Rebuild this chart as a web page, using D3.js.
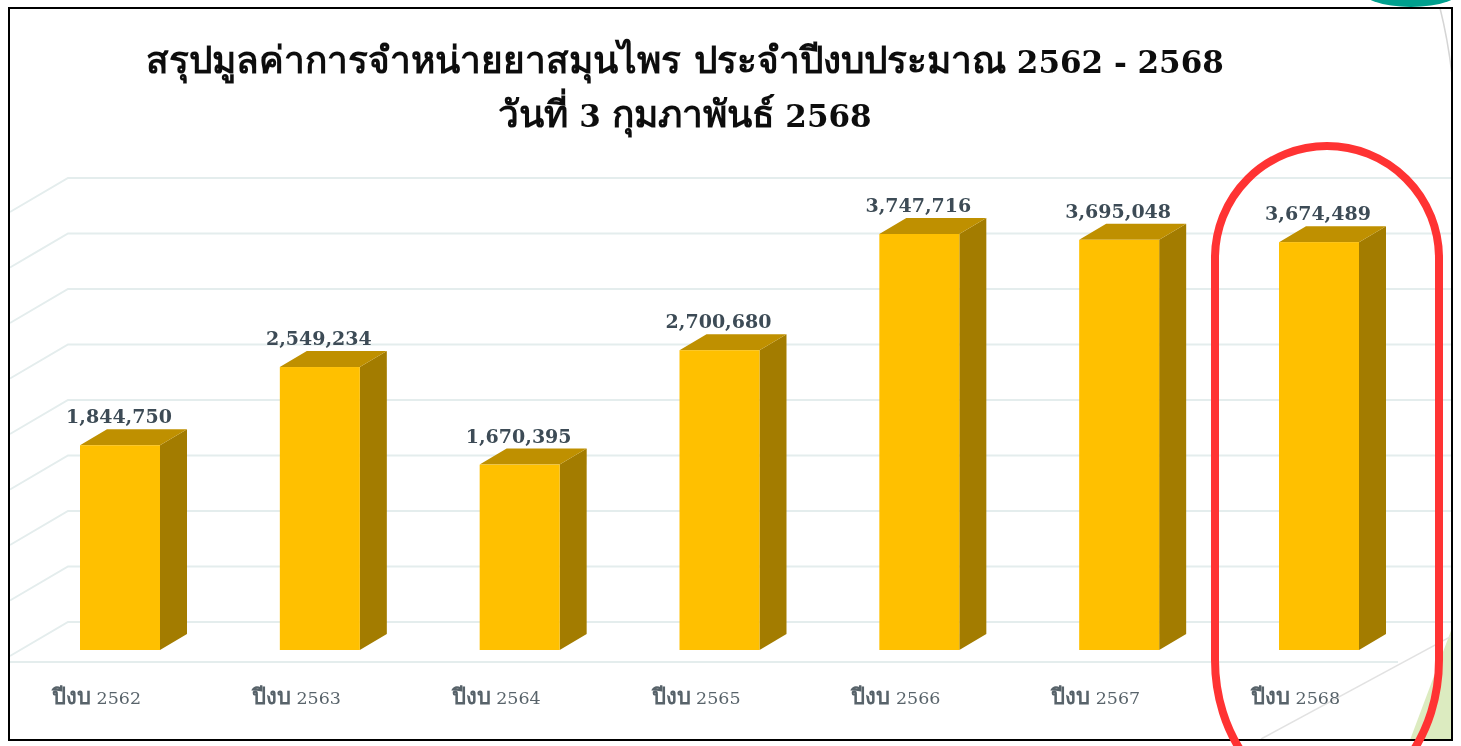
<!DOCTYPE html>
<html>
<head>
<meta charset="utf-8">
<script src="https://cdn.jsdelivr.net/npm/d3@7/dist/d3.min.js"></script>
<style>
    html, body { margin: 0; padding: 0; background: #fff; overflow: hidden; }
    svg { display: block; }
    text { font-family: "DejaVu Serif", "Liberation Serif", serif; }
</style>
</head>
<body>
<svg id="chart" width="1461" height="746"></svg>
<script>
var years = ["ปีงบ 2562", "ปีงบ 2563", "ปีงบ 2564", "ปีงบ 2565", "ปีงบ 2566", "ปีงบ 2567", "ปีงบ 2568"];
var values = [1844750, 2549234, 1670395, 2700680, 3747716, 3695048, 3674489];
var gridTicks = [0, 500000, 1000000, 1500000, 2000000, 2500000, 3000000, 3500000, 4000000];
var titleLines = ["สรุปมูลค่าการจำหน่ายยาสมุนไพร ประจำปีงบประมาณ 2562 - 2568", "วันที่ 3 กุมภาพันธ์ 2568"];

var svg = d3.select("#chart");

// the source is a soft screenshot, so everything gets a small blur
var defs = svg.append("defs");
defs.append("filter").attr("id", "soft")
    .attr("x", "-5%").attr("y", "-5%").attr("width", "110%").attr("height", "110%")
    .append("feGaussianBlur").attr("stdDeviation", 0.55);
defs.append("clipPath").attr("id", "frameClip")
    .append("rect").attr("x", 9).attr("y", 8).attr("width", 1443).attr("height", 732);

var depthX = 27, depthY = -16;   // 3d offset of the bars
var wallX = 58, wallY = 34;      // 3d offset of the side wall

var x = d3.scalePoint().domain(years).range([120, 1319]);
var barW = 80;
var yBack = d3.scaleLinear().domain([0, 4000000]).range([622, 178]);
var yFront = function(v) { return yBack(v) + 28; };

// Thai glyphs fall back to a narrower face, so they get a bigger size than the digits
function addMixedText(sel, thaiSize, digitSize, digitWeight) {
    sel.each(function(d) {
        var t = d3.select(this);
        d.split(/([0-9\- ]*[0-9]+[0-9\- ]*)/).filter(function(s) { return s.length > 0; }).forEach(function(part) {
            var isDigits = /^[0-9\- ]+$/.test(part);
            t.append("tspan")
                .attr("font-size", isDigits ? digitSize : thaiSize)
                .attr("font-weight", isDigits ? digitWeight : "bold")
                .style("white-space", "pre")
                .text(part);
        });
    });
}

// teal shape sticking out above the frame
svg.append("ellipse").attr("cx", 1411).attr("cy", -12).attr("rx", 52).attr("ry", 19).attr("fill", "#00a08e");

var page = svg.append("g").attr("clip-path", "url(#frameClip)");
page.append("rect").attr("x", 9).attr("y", 8).attr("width", 1443).attr("height", 732).attr("fill", "#fff");

// slide decoration behind the chart
page.append("path").attr("d", "M1452,628L1452,740L1410,740Z").attr("fill", "#dcebc0");
page.append("path").attr("d", "M1440,8Q1448,40 1452,75").attr("fill", "none").attr("stroke", "#d5d5d5").attr("stroke-width", 1.5);
page.append("path").attr("d", "M1261,739L1452,636").attr("fill", "none").attr("stroke", "#e2e2e2").attr("stroke-width", 1.5);

var chart = page.append("g").attr("filter", "url(#soft)");

// gridlines, back wall and left wall
var grid = chart.append("g").attr("fill", "none").attr("stroke", "#e4eded").attr("stroke-width", 2);
grid.selectAll("path").data(gridTicks).enter().append("path")
    .attr("d", function(d) {
        var gy = yBack(d);
        return "M10," + (gy + wallY) + "L" + (10 + wallX) + "," + gy + "L1452," + gy;
    });
grid.append("line").attr("x1", 10).attr("x2", 1398)
    .attr("y1", yBack(0) + 40).attr("y2", yBack(0) + 40);

var bars = chart.selectAll("g.bar").data(values).enter().append("g").attr("class", "bar");

// side face
bars.append("path").attr("fill", "#a37c00")
    .attr("d", function(d, i) {
        var r = x(years[i]) + barW / 2, t = yFront(d), b = yFront(0);
        return "M" + r + "," + t + "L" + (r + depthX) + "," + (t + depthY)
            + "L" + (r + depthX) + "," + (b + depthY) + "L" + r + "," + b + "Z";
    });
// top face
bars.append("path").attr("fill", "#bf9000")
    .attr("d", function(d, i) {
        var l = x(years[i]) - barW / 2, r = l + barW, t = yFront(d);
        return "M" + l + "," + t + "L" + (l + depthX) + "," + (t + depthY)
            + "L" + (r + depthX) + "," + (t + depthY) + "L" + r + "," + t + "Z";
    });
// front face
bars.append("rect").attr("fill", "#ffc000")
    .attr("x", function(d, i) { return x(years[i]) - barW / 2; })
    .attr("y", function(d) { return yFront(d); })
    .attr("width", barW)
    .attr("height", function(d) { return yFront(0) - yFront(d); });

// value labels
var fmt = d3.format(",");
bars.append("text")
    .attr("x", function(d, i) { return x(years[i]) - 1; })
    .attr("y", function(d) { return yFront(d) + depthY - 6; })
    .attr("text-anchor", "middle")
    .attr("font-size", 19).attr("font-weight", "bold").attr("fill", "#3d4c56")
    .text(function(d) { return fmt(d); });

// category labels
chart.selectAll("text.year").data(years).enter().append("text")
    .attr("class", "year")
    .attr("x", function(d) { return x(d) - 68; })
    .attr("y", 704)
    .attr("text-anchor", "start")
    .attr("fill", "#59646b")
    .call(addMixedText, 22, 17.5, "normal");

// title
chart.selectAll("text.title").data(titleLines).enter().append("text")
    .attr("class", "title")
    .attr("x", 685)
    .attr("y", function(d, i) { return 73 + i * 54; })
    .attr("text-anchor", "middle")
    .attr("fill", "#111")
    .call(addMixedText, 37, 31, "bold");

// frame
svg.append("rect").attr("x", 9).attr("y", 8).attr("width", 1443).attr("height", 732)
    .attr("fill", "none").attr("stroke", "#000").attr("stroke-width", 2);

// red highlight around the last year
svg.append("path")
    .attr("d", "M1215,258A112,112 0 0 1 1439,258L1439,660A112,142 0 0 1 1215,660Z")
    .attr("fill", "none").attr("stroke", "#ff3333").attr("stroke-width", 8);
</script>
</body>
</html>
